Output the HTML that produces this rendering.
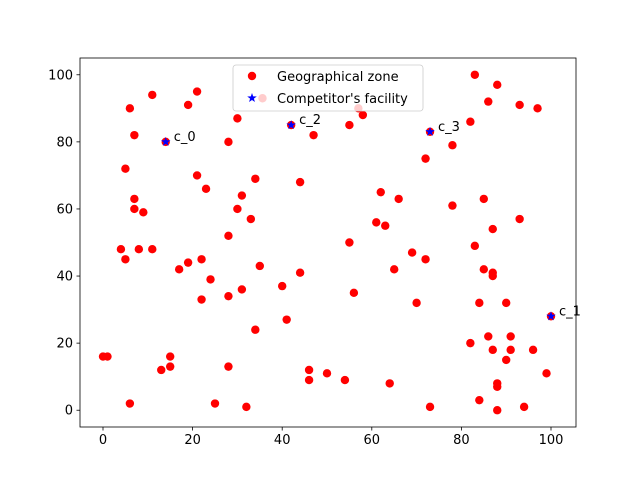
<!DOCTYPE html>
<html><head><meta charset="utf-8"><style>
body{margin:0;background:#fff}
svg{font-family:"DejaVu Sans","Liberation Sans",sans-serif}
</style></head><body>
<svg id="chart" width="640" height="480"></svg>
<script>
const zoneX=[0,1,14,6,11,19,21,7,5,7,7,9,4,8,11,5,6,13,15,15,17,19,22,24,22,21,23,28,30,28,30,31,33,34,28,31,35,34,28,25,32,40,41,44,44,42,47,46,46,50,54,55,35.6,57,58,55,56,61,62,63,66,65,69,70,72,64,73,72,73,78,78,82,83,88,86,93,97,85,87,93,83,85,87,87,84,90,82,86,87,91,91,96,90,99,84,88,88,88,94,100];
const zoneY=[16,16,80,90,94,91,95,82,72,63,60,59,48,48,48,45,2,12,16,13,42,44,45,39,33,70,66,80,87,52,60,64,57,69,34,36,43,24,13,2,1,37,27,41,68,85,82,12,9,11,9,85,93,90,88,50,35,56,65,55,63,42,47,32,45,8,1,75,83,79,61,86,100,97,92,91,90,63,54,57,49,42,41,40,32,32,20,22,18,22,18,18,15,11,3,8,7,0,1,28];
const compX=[14,100,42,73];
const compY=[80,28,85,83];
const compLabels=["c_0","c_1","c_2","c_3"];
const xTicks=[0,20,40,60,80,100];
const yTicks=[0,20,40,60,80,100];
const NS="http://www.w3.org/2000/svg";
const svg=document.getElementById('chart');
const L=80,R=576,T=58,B=427;
const sx=v=>103+v*4.48;
const sy=v=>B-(v+5)/110*(B-T);
function mk(t,a,p){const e=document.createElementNS(NS,t);for(const k in a)e.setAttribute(k,a[k]);(p||svg).appendChild(e);return e;}
const g=mk('g',{});


zoneX.forEach((x,i)=>{const c=mk('circle',{cx:sx(x),cy:sy(zoneY[i]),r:4.2,fill:'#ff0000'},g);

});
function star(cx,cy,r){let p=[];for(let i=0;i<10;i++){const a=-Math.PI/2+i*Math.PI/5;const rr=i%2?r*0.4:r;p.push((cx+rr*Math.cos(a)).toFixed(2)+','+(cy+rr*Math.sin(a)).toFixed(2));}return p.join(' ');}
compX.forEach((x,i)=>{const s=mk('polygon',{points:star(sx(x),sy(compY[i]),5),fill:'#0000ff'},g);


const t=mk('text',{x:sx(x)+8,y:sy(compY[i])-1,'font-size':13,fill:'#000'},g);t.textContent=compLabels[i];

});
const ax=mk('rect',{x:L,y:T,width:R-L,height:B-T,fill:'none',stroke:'#000','stroke-width':0.8});


xTicks.forEach(v=>{mk('line',{x1:sx(v),x2:sx(v),y1:B,y2:B+3.5,stroke:'#000','stroke-width':0.8});
const t=mk('text',{x:sx(v),y:B+17,'font-size':13,'text-anchor':'middle'});t.textContent=v;

});
yTicks.forEach(v=>{mk('line',{x1:L-3.5,x2:L,y1:sy(v),y2:sy(v),stroke:'#000','stroke-width':0.8});
const t=mk('text',{x:L-7,y:sy(v)+4.5,'font-size':13,'text-anchor':'end'});t.textContent=v;

});
const lg=mk('g',{});


mk('rect',{x:233,y:65,width:190,height:46,rx:3,fill:'#fff','fill-opacity':0.8,stroke:'#ccc','stroke-width':0.8},lg);
mk('circle',{cx:252,cy:76,r:4.2,fill:'#ff0000'},lg);
let t1=mk('text',{x:277,y:81,'font-size':13},lg);t1.textContent='Geographical zone';


mk('polygon',{points:star(252,98,5),fill:'#0000ff'},lg);
let t2=mk('text',{x:277,y:103,'font-size':13},lg);t2.textContent="Competitor's facility";


</script>
</body></html>
